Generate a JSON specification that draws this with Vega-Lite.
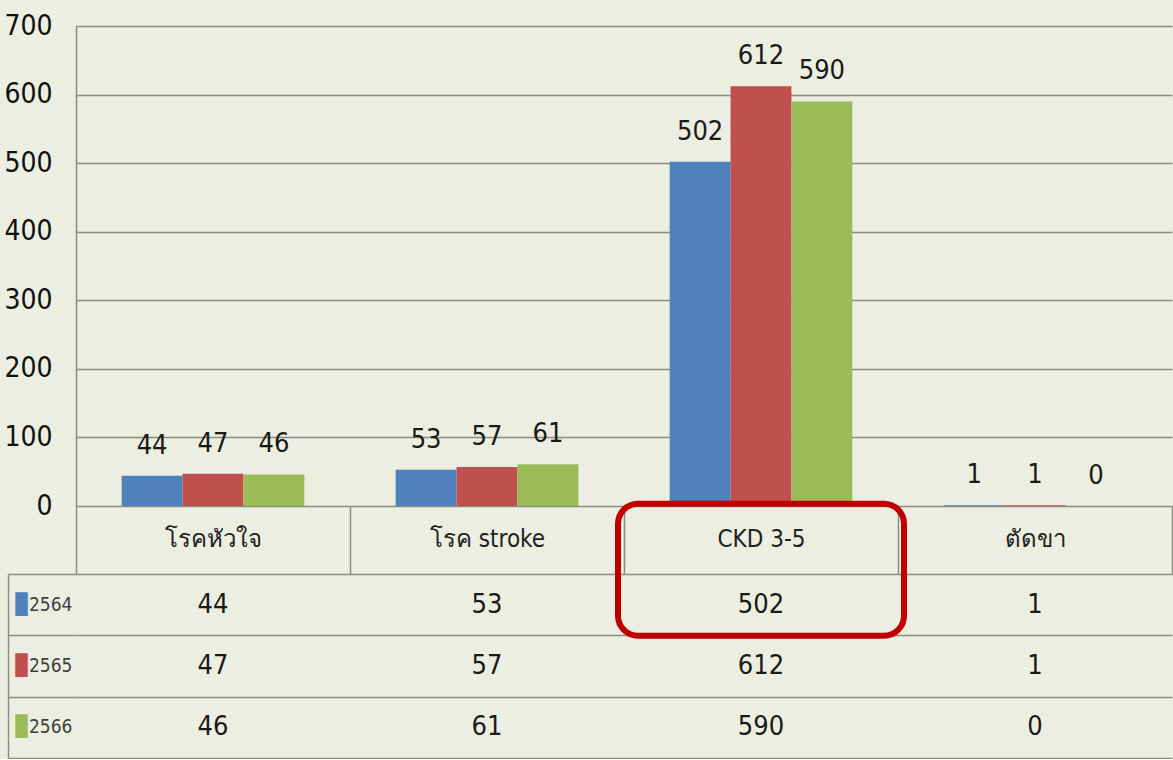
{
  "$schema": "https://vega.github.io/schema/vega-lite/v6.json",
  "background": "#ebeee0",
  "padding": {"left": 3, "top": 12, "right": 0, "bottom": 0},
  "spacing": 68,
  "bounds": "flush",
  "config": {
    "view": {"stroke": null},
    "axis": {
      "gridColor": "#8a8d82", "gridWidth": 1.5,
      "domainColor": "#8a8d82", "domainWidth": 1.5,
      "tickColor": "#8a8d82", "tickWidth": 1.5,
      "labelFont": "DejaVu Sans Condensed",
      "title": null
    }
  },
  "datasets": {
    "main": [
      {"category": "โรคหัวใจ", "year": "2564", "value": 44},
      {"category": "โรคหัวใจ", "year": "2565", "value": 47},
      {"category": "โรคหัวใจ", "year": "2566", "value": 46},
      {"category": "โรค stroke", "year": "2564", "value": 53},
      {"category": "โรค stroke", "year": "2565", "value": 57},
      {"category": "โรค stroke", "year": "2566", "value": 61},
      {"category": "CKD 3-5", "year": "2564", "value": 502},
      {"category": "CKD 3-5", "year": "2565", "value": 612},
      {"category": "CKD 3-5", "year": "2566", "value": 590},
      {"category": "ตัดขา", "year": "2564", "value": 1},
      {"category": "ตัดขา", "year": "2565", "value": 1},
      {"category": "ตัดขา", "year": "2566", "value": 0}
    ]
  },
  "vconcat": [
    {
      "width": 1096,
      "height": 480,
      "data": {"name": "main"},
      "encoding": {
        "x": {
          "field": "category", "type": "nominal",
          "sort": ["โรคหัวใจ", "โรค stroke", "CKD 3-5", "ตัดขา"],
          "scale": {"type": "band", "paddingInner": 0, "paddingOuter": 0},
          "axis": {
            "title": null, "tickBand": "extent", "tickSize": 68, "domain": false,
            "labelPadding": -35, "labelBaseline": "middle", "labelFontSize": 24,
            "labelColor": "#222222", "labelAngle": 0
          }
        },
        "xOffset": {
          "field": "year", "type": "nominal",
          "scale": {"paddingInner": 0, "paddingOuter": 0.75}
        },
        "y": {
          "field": "value", "type": "quantitative",
          "scale": {"domain": [0, 700], "nice": false},
          "axis": {
            "title": null, "values": [0, 100, 200, 300, 400, 500, 600, 700],
            "ticks": false, "domain": true, "labelPadding": 24,
            "labelFontSize": 28, "labelColor": "#111111", "grid": true
          }
        }
      },
      "layer": [
        {
          "mark": {"type": "bar"},
          "encoding": {
            "color": {
              "field": "year", "type": "nominal",
              "scale": {"range": ["#4f81bd", "#c0504d", "#9bbb59"]},
              "legend": null
            }
          }
        },
        {
          "mark": {
            "type": "text", "baseline": "alphabetic", "dy": -22, "fontSize": 27,
            "font": "DejaVu Sans Condensed",
            "color": "#1a1a1a"
          },
          "encoding": {"text": {"field": "value"}}
        }
      ]
    },
    {
      "width": 1096,
      "height": 184,
      "layer": [
        {
          "data": {"name": "main"},
          "mark": {
            "type": "text", "fontSize": 27, "baseline": "middle",
            "font": "DejaVu Sans Condensed",
            "color": "#1a1a1a"
          },
          "encoding": {
            "x": {
              "field": "category", "type": "nominal",
              "sort": ["โรคหัวใจ", "โรค stroke", "CKD 3-5", "ตัดขา"],
              "scale": {"type": "band", "paddingInner": 0, "paddingOuter": 0},
              "axis": {"title": null, "labels": false, "ticks": false, "domain": false, "grid": true, "tickBand": "extent"}
            },
            "y": {
              "field": "year", "type": "ordinal",
              "scale": {"type": "band", "paddingInner": 0, "paddingOuter": 0},
              "axis": {"orient": "left", "title": null, "labels": false, "domain": false, "ticks": true, "tickSize": 68, "grid": true, "tickBand": "extent"}
            },
            "text": {"field": "value"}
          }
        },
        {
          "data": {"name": "main"},
          "mark": {"type": "text", "opacity": 0},
          "encoding": {
            "y": {
              "field": "year", "type": "ordinal",
              "scale": {"type": "band", "paddingInner": 0, "paddingOuter": 0},
              "axis": {
                "orient": "left", "offset": 68, "title": null, "domain": true, "ticks": false, "grid": false,
                "labelExpr": "'█'", "labelAlign": "left", "labelPadding": -7,
                "labelFont": "DejaVu Sans Mono", "labelFontSize": 20,
                "labelColor": {
                  "condition": [
                    {"test": "datum.value == '2564'", "value": "#4f81bd"},
                    {"test": "datum.value == '2565'", "value": "#c0504d"}
                  ],
                  "value": "#9bbb59"
                }
              }
            },
            "text": {"value": "."}
          }
        },
        {
          "data": {"name": "main"},
          "mark": {"type": "text", "opacity": 0},
          "encoding": {
            "y": {
              "field": "year", "type": "ordinal",
              "scale": {"type": "band", "paddingInner": 0, "paddingOuter": 0},
              "axis": {
                "orient": "left", "offset": 0, "title": null, "domain": false, "ticks": false, "grid": false,
                "labelAlign": "right", "labelPadding": 4, "labelFontSize": 19, "labelColor": "#404040"
              }
            },
            "text": {"value": "."}
          }
        },
        {
          "data": {"values": [{"category": "CKD 3-5", "year": "2564"}]},
          "mark": {
            "type": "rect", "width": 286, "height": 132, "yOffset": -35,
            "fillOpacity": 0, "stroke": "#c00000", "strokeWidth": 6, "cornerRadius": 20
          },
          "encoding": {
            "x": {
              "field": "category", "type": "nominal",
              "sort": ["โรคหัวใจ", "โรค stroke", "CKD 3-5", "ตัดขา"],
              "scale": {"type": "band", "paddingInner": 0, "paddingOuter": 0},
              "axis": null
            },
            "y": {
              "field": "year", "type": "ordinal",
              "scale": {"type": "band", "paddingInner": 0, "paddingOuter": 0},
              "axis": null
            }
          }
        }
      ],
      "resolve": {"axis": {"y": "independent"}}
    }
  ]
}
